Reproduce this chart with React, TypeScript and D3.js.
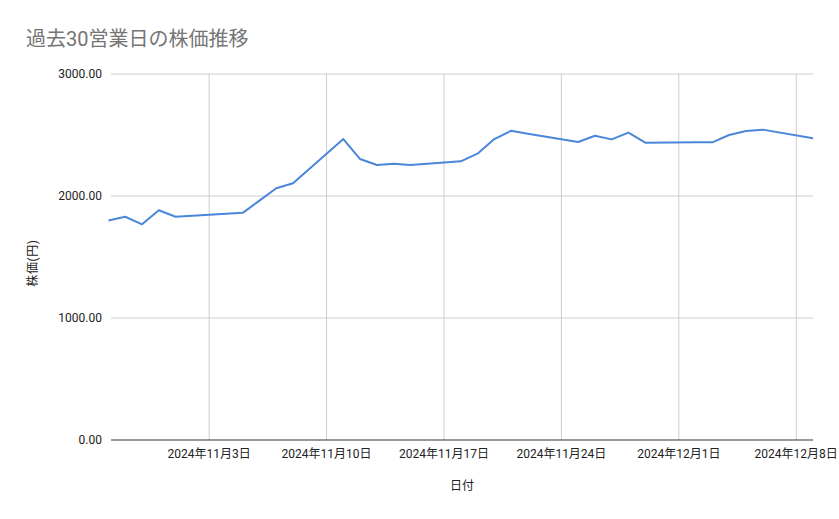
import React from 'react';
import * as d3 from 'd3';

const tradingDays: string[] = [
  '2024-10-28', '2024-10-29', '2024-10-30', '2024-10-31', '2024-11-01',
  '2024-11-05', '2024-11-06', '2024-11-07', '2024-11-08',
  '2024-11-11', '2024-11-12', '2024-11-13', '2024-11-14', '2024-11-15',
  '2024-11-18', '2024-11-19', '2024-11-20', '2024-11-21', '2024-11-22',
  '2024-11-25', '2024-11-26', '2024-11-27', '2024-11-28', '2024-11-29',
  '2024-12-02', '2024-12-03', '2024-12-04', '2024-12-05', '2024-12-06',
  '2024-12-09',
];

const prices: number[] = [
  1800, 1830, 1768, 1883, 1830,
  1862, 1962, 2063, 2104,
  2467, 2303, 2254, 2265, 2254,
  2284, 2347, 2467, 2535, 2510,
  2443, 2494, 2464, 2519, 2437,
  2440, 2440, 2500, 2533, 2544,
  2473,
];

const xTickDates: string[] = ['2024-11-03', '2024-11-10', '2024-11-17', '2024-11-24', '2024-12-01', '2024-12-08'];
const yTicks: number[] = [0, 1000, 2000, 3000];

const W = 839;
const H = 519;
const margin = { top: 74, right: 26, bottom: 78, left: 110 };
const FONT = "Roboto, 'Noto Sans CJK JP', sans-serif";

const parse = d3.timeParse('%Y-%m-%d');

export default function App() {
  const x = d3.scaleTime()
    .domain([parse('2024-10-28')!, parse('2024-12-09')!])
    .range([margin.left - 1.5, W - margin.right]);
  const y = d3.scaleLinear()
    .domain([0, 3000])
    .range([H - margin.bottom - 1, margin.top]);

  const points = tradingDays.map((d, i) => ({ date: parse(d)!, value: prices[i] }));
  const line = d3.line<{ date: Date; value: number }>()
    .x(d => x(d.date))
    .y(d => y(d.value));

  const fmtTick = (d: Date) => `${d.getFullYear()}年${d.getMonth() + 1}月${d.getDate()}日`;
  const x0 = margin.left + 1;
  const x1 = W - margin.right;

  return (
    <svg width={W} height={H} style={{ position: 'absolute', left: 0, top: 0, background: '#fff' }}>
      <text x={26} y={46} fontFamily={FONT} fontSize={20} fill="#757575">過去30営業日の株価推移</text>

      {/* grid */}
      {yTicks.filter(t => t > 0).map(t => (
        <line key={t} x1={x0} x2={x1} y1={y(t)} y2={y(t)} stroke="#cccccc" strokeWidth={1} />
      ))}
      {xTickDates.map(d => (
        <line key={d} x1={x(parse(d)!)} x2={x(parse(d)!)} y1={margin.top} y2={y(0)} stroke="#cccccc" strokeWidth={1} />
      ))}

      {/* y labels */}
      {yTicks.map(t => (
        <text key={t} x={102} y={y(t) + 4} textAnchor="end" fontFamily={FONT} fontSize={12} fill="#222">
          {d3.format('.2f')(t)}
        </text>
      ))}

      {/* x labels */}
      {xTickDates.map(d => (
        <text key={d} x={x(parse(d)!)} y={458} textAnchor="middle" fontFamily={FONT} fontSize={12} fill="#222">
          {fmtTick(parse(d)!)}
        </text>
      ))}

      <path d={line(points) ?? ''} fill="none" stroke="#4a86d9" strokeWidth={2} strokeLinejoin="round" />

      {/* baseline */}
      <line x1={x0} x2={x1} y1={y(0)} y2={y(0)} stroke="#333" strokeWidth={1} />

      <text x={(x0 + x1) / 2} y={490} textAnchor="middle" fontFamily={FONT} fontSize={12} fill="#222">日付</text>
      <text transform={`translate(37,${(margin.top + y(0)) / 2 + 6}) rotate(-90)`} textAnchor="middle"
        fontFamily={FONT} fontSize={12} fill="#222" letterSpacing={0.6}>株価(円)</text>
    </svg>
  );
}
